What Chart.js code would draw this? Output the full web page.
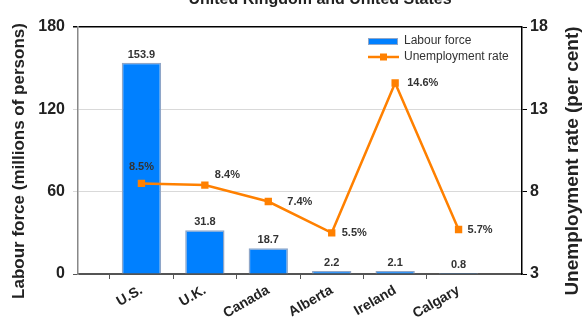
<!DOCTYPE html>
<html lang="en">
<head>
  <meta charset="UTF-8">
  <title>Labour force and unemployment</title>
  <style>
    html, body {
      margin: 0;
      padding: 0;
      background: #fff;
    }
    #chartWrapper {
      position: relative;
      width: 583px;
      height: 321px;
    }
  </style>
</head>
<body>
  <div id="chartWrapper">
    <canvas id="labourChart"></canvas>
  </div>

  <script src="https://cdn.jsdelivr.net/npm/chart.js/dist/chart.umd.min.js"></script>
  <script>
    // data
    const regions = ['U.S.', 'U.K.', 'Canada', 'Alberta', 'Ireland', 'Calgary'];
    const labourForce = [153.9, 31.8, 18.7, 2.2, 2.1, 0.8];       // millions of persons
    const unemploymentRate = [8.5, 8.4, 7.4, 5.5, 14.6, 5.7];     // per cent
    const leftTicks = [0, 60, 120, 180];
    const rightTicks = [3, 8, 13, 18];

    const titleText = 'United Kingdom and United States';
    const leftTitle = 'Labour force (millions of persons)';
    const rightTitle = 'Unemployment rate (per cent)';

    const BLUE = '#0080ff';
    const ORANGE = '#ff8000';
    const TEXT = '#222';
    const FONT = '"Liberation Sans", Arial, sans-serif';

    // empty slot on each side so the categories sit inward like the original layout
    const labels = [''].concat(regions, ['']);
    const pad = arr => [null].concat(arr, [null]);

    // where each rate label sits relative to its point: [dx, dy, align]
    const rateLabelPlacement = [
      [0, -16, 'center'],
      [10, -10, 'left'],
      [19, 0, 'left'],
      [10, 0, 'left'],
      [12, 0, 'left'],
      [9, 0, 'left']
    ];

    const textPlugin = {
      id: 'textPlugin',
      afterDatasetsDraw(chart) {
        const ctx = chart.ctx;
        ctx.save();
        ctx.fillStyle = '#333';
        ctx.font = 'bold 11px ' + FONT;
        ctx.textBaseline = 'middle';

        // bar values
        chart.getDatasetMeta(0).data.forEach((el, i) => {
          const v = chart.data.datasets[0].data[i];
          if (v == null) return;
          ctx.textAlign = 'center';
          ctx.fillText(v.toFixed(1), el.x, el.y - 8);
        });

        // rate values
        chart.getDatasetMeta(1).data.forEach((el, i) => {
          const v = chart.data.datasets[1].data[i];
          if (v == null) return;
          const p = rateLabelPlacement[i - 1];
          ctx.textAlign = p[2];
          ctx.fillText(v.toFixed(1) + '%', el.x + p[0], el.y + p[1]);
        });
        ctx.restore();
      },
      afterDraw(chart) {
        const ctx = chart.ctx;
        ctx.save();
        ctx.fillStyle = TEXT;

        // title, only its lower part fits on the canvas
        ctx.font = 'bold 16px ' + FONT;
        ctx.textAlign = 'center';
        ctx.textBaseline = 'alphabetic';
        ctx.fillText(titleText, 320, 4);

        // axis titles, both reading bottom to top
        ctx.textBaseline = 'middle';
        [[19, 17, leftTitle], [573, 19, rightTitle]].forEach(([x, size, text]) => {
          ctx.save();
          ctx.font = 'bold ' + size + 'px ' + FONT;
          ctx.translate(x, 161);
          ctx.rotate(-Math.PI / 2);
          ctx.fillText(text, 0, 0);
          ctx.restore();
        });

        // legend in the upper right of the plot
        const lx = 368, ty = 41;
        ctx.font = '12px ' + FONT;
        ctx.textAlign = 'left';
        ctx.fillStyle = BLUE;
        ctx.fillRect(lx, ty - 3, 30, 7);
        ctx.strokeStyle = '#8fa6c8';
        ctx.lineWidth = 1;
        ctx.strokeRect(lx + 0.5, ty - 2.5, 29, 6);
        ctx.fillStyle = '#333';
        ctx.fillText(chart.data.datasets[0].label, 404, ty);

        const ly = ty + 16;
        ctx.strokeStyle = ORANGE;
        ctx.lineWidth = 2.5;
        ctx.beginPath();
        ctx.moveTo(lx, ly);
        ctx.lineTo(lx + 31, ly);
        ctx.stroke();
        ctx.fillStyle = ORANGE;
        ctx.fillRect(lx + 15.5 - 3.5, ly - 3.5, 7, 7);
        ctx.fillStyle = '#333';
        ctx.fillText(chart.data.datasets[1].label, 404, ly);
        ctx.restore();
      }
    };

    const edgeTick = c => (c.index === 0 || c.index === labels.length - 1) ? 'rgba(0,0,0,0)' : '#555';

    new Chart(document.getElementById('labourChart').getContext('2d'), {
      type: 'bar',
      data: {
        labels: labels,
        datasets: [{
          label: 'Labour force',
          data: pad(labourForce),
          yAxisID: 'y',
          backgroundColor: BLUE,
          borderColor: '#8fa6c8',
          borderWidth: 1.5,
          barPercentage: 0.62,
          categoryPercentage: 1,
          order: 2
        }, {
          type: 'line',
          label: 'Unemployment rate',
          data: pad(unemploymentRate),
          yAxisID: 'y1',
          borderColor: ORANGE,
          borderWidth: 2.5,
          pointStyle: 'rect',
          pointRadius: 5.2,
          pointBackgroundColor: ORANGE,
          pointBorderWidth: 0,
          tension: 0,
          order: 1
        }]
      },
      options: {
        responsive: true,
        maintainAspectRatio: false,
        animation: false,
        layout: { padding: { top: 27 } },
        plugins: {
          legend: { display: false },
          title: { display: false },
          tooltip: { enabled: false }
        },
        scales: {
          x: {
            type: 'category',
            offset: false,
            afterFit: s => { s.height = 47; },
            border: { color: '#555', width: 1.5 },
            grid: { drawOnChartArea: false, drawTicks: true, tickLength: 5, color: edgeTick },
            ticks: {
              autoSkip: false,
              maxRotation: 30,
              minRotation: 30,
              padding: 3,
              color: TEXT,
              font: { family: FONT, size: 14, weight: 'bold' }
            }
          },
          y: {
            position: 'left',
            min: leftTicks[0],
            max: leftTicks[leftTicks.length - 1],
            afterFit: s => { s.width = 78; },
            afterBuildTicks: s => { s.ticks = leftTicks.map(v => ({ value: v })); },
            border: { color: '#888', width: 1.5 },
            grid: {
              tickLength: 5,
              lineWidth: c => (c.tick && c.tick.value === 180) ? 1.5 : 1,
              color: c => {
                if (!c.tick) return 'rgba(0,0,0,0)';
                if (c.tick.value === 180) return '#000';
                if (c.tick.value === 0) return '#555';
                return '#d9d9d9';
              }
            },
            ticks: {
              padding: 8,
              color: TEXT,
              font: { family: FONT, size: 16, weight: 'bold' }
            }
          },
          y1: {
            position: 'right',
            min: rightTicks[0],
            max: rightTicks[rightTicks.length - 1],
            afterFit: s => { s.width = 61; },
            afterBuildTicks: s => { s.ticks = rightTicks.map(v => ({ value: v })); },
            border: { color: '#000', width: 1.5 },
            grid: { drawOnChartArea: false, tickLength: 5, color: '#000' },
            ticks: {
              padding: 3,
              color: TEXT,
              font: { family: FONT, size: 16, weight: 'bold' }
            }
          }
        }
      },
      plugins: [textPlugin]
    });
  </script>
</body>
</html>
